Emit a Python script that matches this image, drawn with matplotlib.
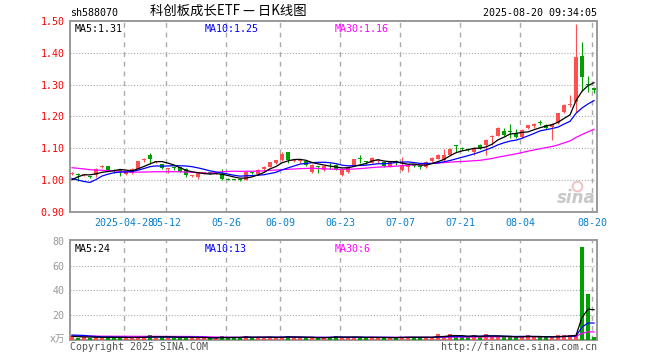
import pandas as pd
import matplotlib
matplotlib.use("Agg")
import matplotlib.pyplot as plt

plt.rcParams['font.family'] = ['DejaVu Sans Mono', 'Noto Sans CJK SC']

# daily candles 2025-04-15 .. 2025-08-20
opens = [1.019, 1.020, 1.015, 1.012, 1.015, 1.040, 1.043, 1.032, 1.030, 1.020,
         1.022, 1.036, 1.063, 1.080, 1.056, 1.050, 1.035, 1.040, 1.040, 1.035,
         1.013, 1.011, 1.023, 1.026, 1.023, 1.020, 1.004, 1.003, 1.001, 1.001,
         1.025, 1.018, 1.034, 1.042, 1.053, 1.062, 1.088, 1.060, 1.059, 1.061,
         1.027, 1.043, 1.032, 1.045, 1.048, 1.016, 1.025, 1.047, 1.069, 1.058,
         1.055, 1.060, 1.058, 1.044, 1.058, 1.032, 1.042, 1.047, 1.042, 1.041,
         1.060, 1.067, 1.063, 1.078, 1.110, 1.101, 1.098, 1.087, 1.112, 1.109,
         1.135, 1.140, 1.156, 1.153, 1.148, 1.135, 1.165, 1.169, 1.184, 1.174,
         1.167, 1.179, 1.213, 1.236, 1.245, 1.390, 1.302, 1.291]
highs = [1.025, 1.022, 1.019, 1.014, 1.038, 1.047, 1.044, 1.036, 1.031, 1.028,
         1.037, 1.061, 1.069, 1.086, 1.061, 1.052, 1.037, 1.044, 1.042, 1.037,
         1.016, 1.024, 1.026, 1.027, 1.026, 1.035, 1.006, 1.005, 1.003, 1.027,
         1.027, 1.035, 1.043, 1.058, 1.064, 1.089, 1.089, 1.066, 1.063, 1.063,
         1.050, 1.046, 1.045, 1.055, 1.050, 1.033, 1.045, 1.067, 1.078, 1.060,
         1.072, 1.065, 1.060, 1.060, 1.062, 1.073, 1.050, 1.050, 1.044, 1.060,
         1.072, 1.081, 1.099, 1.100, 1.111, 1.103, 1.102, 1.104, 1.114, 1.130,
         1.142, 1.167, 1.163, 1.175, 1.160, 1.160, 1.174, 1.179, 1.188, 1.177,
         1.180, 1.212, 1.240, 1.268, 1.492, 1.435, 1.327, 1.294]
lows = [1.015, 0.998, 1.012, 1.007, 1.010, 1.038, 1.028, 1.021, 1.013, 1.017,
        1.020, 1.035, 1.057, 1.052, 1.054, 1.034, 1.024, 1.032, 1.025, 1.010,
        1.010, 1.004, 1.020, 1.018, 1.020, 1.002, 0.999, 0.999, 0.997, 0.999,
        1.020, 1.015, 1.030, 1.040, 1.051, 1.060, 1.053, 1.057, 1.055, 1.045,
        1.024, 1.024, 1.030, 1.035, 1.032, 1.014, 1.022, 1.045, 1.054, 1.050,
        1.053, 1.055, 1.041, 1.042, 1.047, 1.030, 1.026, 1.040, 1.036, 1.038,
        1.057, 1.065, 1.060, 1.075, 1.090, 1.094, 1.091, 1.080, 1.097, 1.080,
        1.109, 1.138, 1.139, 1.133, 1.134, 1.133, 1.160, 1.165, 1.172, 1.160,
        1.127, 1.177, 1.210, 1.229, 1.213, 1.280, 1.278, 1.274]
closes = [1.021, 1.017, 1.016, 1.010, 1.035, 1.045, 1.030, 1.030, 1.028, 1.025,
          1.035, 1.060, 1.068, 1.068, 1.059, 1.037, 1.036, 1.038, 1.027, 1.017,
          1.014, 1.022, 1.024, 1.019, 1.024, 1.004, 1.002, 1.001, 1.000, 1.026,
          1.023, 1.032, 1.040, 1.057, 1.062, 1.081, 1.063, 1.061, 1.060, 1.047,
          1.047, 1.041, 1.043, 1.043, 1.034, 1.032, 1.042, 1.065, 1.067, 1.056,
          1.071, 1.063, 1.043, 1.058, 1.056, 1.047, 1.047, 1.045, 1.040, 1.058,
          1.070, 1.079, 1.078, 1.098, 1.106, 1.099, 1.096, 1.101, 1.100, 1.127,
          1.140, 1.165, 1.143, 1.150, 1.136, 1.157, 1.172, 1.177, 1.181, 1.164,
          1.177, 1.210, 1.237, 1.237, 1.388, 1.324, 1.299, 1.283]
volumes = [3.0, 2.0, 2.2, 2.0, 2.3, 2.2, 2.2, 2.1, 2.0, 2.0,
           2.0, 2.4, 2.2, 4.0, 2.0, 2.4, 2.0, 2.0, 2.3, 2.4,
           1.8, 1.8, 1.6, 1.5, 1.6, 3.2, 2.0, 2.0, 1.8, 3.5,
           2.0, 2.2, 2.0, 2.2, 2.0, 2.6, 3.5, 1.8, 1.6, 1.8,
           2.0, 1.7, 1.8, 2.8, 3.3, 2.0, 2.0, 2.2, 2.2, 2.0,
           2.2, 1.6, 1.8, 2.0, 2.0, 2.8, 2.4, 2.0, 1.8, 2.2,
           2.5, 4.8, 3.0, 4.5, 2.8, 2.5, 2.5, 4.0, 2.5, 4.5,
           2.5, 3.0, 2.4, 2.4, 2.4, 2.8, 3.8, 2.5, 2.2, 2.2,
           2.4, 3.8, 3.8, 4.0, 4.4, 75.0, 37.0, 2.2]

# earlier sessions, only used so the moving averages start where the chart shows them
prev_closes = [1.070, 1.080, 1.075, 1.070, 1.068, 1.065, 1.060, 1.058, 1.066, 1.070,
               1.062, 1.058, 1.055, 1.045, 1.040, 1.030, 1.035, 1.040, 1.038, 1.035,
               1.065, 1.060, 1.040, 0.945, 0.935, 0.970, 0.985, 1.010, 1.020]
prev_volumes = [2.6, 3.0, 2.8, 2.5, 2.9, 3.1, 2.7, 2.6, 2.8, 3.0,
                2.9, 2.6, 2.7, 2.8, 3.0, 2.9, 2.7, 2.6, 2.8, 3.0,
                3.5, 4.0, 6.5, 6.0, 5.0, 3.5, 3.0, 2.8, 2.7]

holidays = ["2025-05-01", "2025-05-02", "2025-05-05", "2025-06-02"]
tick_dates = ["2025-04-28", "2025-05-12", "2025-05-26", "2025-06-09", "2025-06-23",
              "2025-07-07", "2025-07-21", "2025-08-04", "2025-08-20"]
tick_labels = ["2025-04-28", "05-12", "05-26", "06-09", "06-23",
               "07-07", "07-21", "08-04", "08-20"]

days = pd.bdate_range("2025-04-15", "2025-08-20")
days = days[~days.isin(pd.to_datetime(holidays))]
n = len(closes)
xs = list(range(n))
tick_pos = [days.get_loc(pd.Timestamp(d)) - 1 / 3 for d in tick_dates]

cs = pd.Series(prev_closes + closes)
vs = pd.Series(prev_volumes + volumes)
k = len(prev_closes)
ma = {w: cs.rolling(w).mean().values[k:] for w in (5, 10, 30)}
vma = {w: vs.rolling(w).mean().values[k:] for w in (5, 10, 30)}

RED = "#ff5050"
GREEN = "#00a000"
ma_colors = {5: "black", 10: "#0000ff", 30: "#ff00ff"}
up = [c >= o for o, c in zip(opens, closes)]
colors = [RED if u else GREEN for u in up]

W, H = 660, 360
fig = plt.figure(figsize=(6.6, 3.6), dpi=100)


def box(l, t, r, b):
    return [l / W, 1 - b / H, (r - l) / W, (b - t) / H]


def ftext(x, y, s, **kw):
    fig.text(x / W, 1 - y / H, s, **kw)


ax = fig.add_axes(box(70, 21, 597, 212))
axv = fig.add_axes(box(70, 240, 597, 340))

for a in (ax, axv):
    a.set_xlim(-1 / 3, n - 0.5)
    for s in a.spines.values():
        s.set_color("#999999")
        s.set_linewidth(1.4)
    for p in tick_pos:
        a.axvline(p, color="#aaaaaa", lw=1.0, ls=(0, (3.5, 3.5)), zorder=0)

# price panel
ax.set_ylim(0.90, 1.50)
for yv in [1.0, 1.1, 1.2, 1.3, 1.4]:
    ax.axhline(yv, color="#aaaaaa", lw=0.8, ls=(0, (1, 1.6)), zorder=0)

ax.vlines(xs, lows, highs, colors=colors, lw=0.8, zorder=2)
bottoms = [min(o, c) for o, c in zip(opens, closes)]
heights = [max(abs(c - o), 0.003) for o, c in zip(opens, closes)]
ax.bar(xs, heights, bottom=bottoms, width=0.75, color=colors, lw=0, zorder=3)
for w in (30, 10, 5):
    ax.plot(xs, ma[w], color=ma_colors[w], lw=0.9, zorder=4)

ax.set_yticks([0.9, 1.0, 1.1, 1.2, 1.3, 1.4, 1.5])
ax.set_yticklabels([f"{v:.2f}" for v in [0.9, 1.0, 1.1, 1.2, 1.3, 1.4, 1.5]])
ax.tick_params(axis="y", length=0, pad=4, labelsize=7.2, labelcolor="#ff0000")
ax.set_xticks(tick_pos)
ax.set_xticklabels(tick_labels)
ax.tick_params(axis="x", length=0, pad=4, labelsize=7.2, labelcolor="#0a80d0")

ax.text(0.008, 0.985, f"MA5:{ma[5][-1]:.2f}", transform=ax.transAxes, color="black",
        fontsize=7.2, va="top", ha="left")
ax.text(0.256, 0.985, f"MA10:{ma[10][-1]:.2f}", transform=ax.transAxes, color="#0000ff",
        fontsize=7.2, va="top", ha="left")
ax.text(0.503, 0.985, f"MA30:{ma[30][-1]:.2f}", transform=ax.transAxes, color="#ff00ff",
        fontsize=7.2, va="top", ha="left")
# sina watermark
ax.text(0.997, 0.075, "sina", transform=ax.transAxes, color="#c8c8c8", fontsize=12,
        fontweight="bold", style="italic", ha="right", va="center",
        family="DejaVu Sans", zorder=1)
ax.plot([0.962], [0.135], transform=ax.transAxes, marker="o", ms=7, mfc="none",
        mec="#f2c4c4", mew=1.5, zorder=1)

# volume panel
axv.set_ylim(0, 80.8)
for yv in [20, 40, 60]:
    axv.axhline(yv, color="#aaaaaa", lw=0.8, ls=(0, (1, 1.6)), zorder=0)
axv.bar(xs, volumes, width=0.75, color=colors, lw=0, zorder=3)
for w in (30, 10, 5):
    axv.plot(xs, vma[w], color=ma_colors[w], lw=0.9, zorder=4)
axv.set_xticks([])
axv.set_yticks([20, 40, 60, 80])
axv.tick_params(axis="y", length=0, pad=4, labelsize=7.2, labelcolor="#999999")

axv.text(0.008, 0.96, f"MA5:{int(vma[5][-1])}", transform=axv.transAxes, color="black",
         fontsize=7.2, va="top", ha="left")
axv.text(0.256, 0.96, f"MA10:{int(vma[10][-1])}", transform=axv.transAxes, color="#0000ff",
         fontsize=7.2, va="top", ha="left")
axv.text(0.503, 0.96, f"MA30:{int(vma[30][-1])}", transform=axv.transAxes, color="#ff00ff",
         fontsize=7.2, va="top", ha="left")

# header and footer texts
ftext(70, 13, "sh588070", fontsize=7.2, va="center", ha="left")
ftext(150, 11, "科创板成长ETF — 日K线图", fontsize=9.6, va="center", ha="left",
      family=["Noto Sans CJK SC", "DejaVu Sans"])
ftext(597, 13, "2025-08-20 09:34:05", fontsize=7.2, va="center", ha="right")
ftext(65, 339, "x万", fontsize=7, va="center", ha="right", color="#999999",
      family=["DejaVu Sans", "Noto Sans CJK SC"])
ftext(70, 347, "Copyright 2025 SINA.COM", fontsize=7.2, va="center", ha="left",
      color="#555555")
ftext(597, 347, "http://finance.sina.com.cn", fontsize=7.2, va="center", ha="right",
      color="#555555")

fig.savefig("out.png", dpi=100, facecolor="white")
